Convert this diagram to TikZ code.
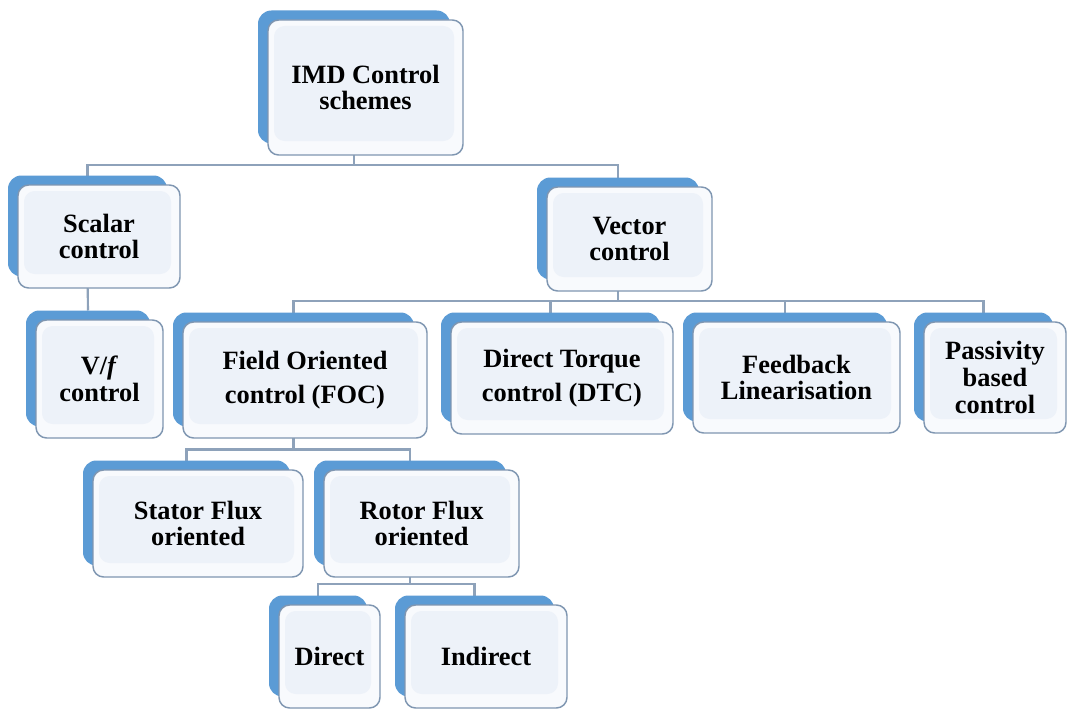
\documentclass[tikz,border=0pt]{standalone}
\usepackage{fontspec}
\setmainfont{Liberation Serif}
\pgfdeclarelayer{paper}
\pgfdeclarelayer{background}
\pgfsetlayers{paper,background,main}

\definecolor{backblue}{HTML}{5B9BD5}
\definecolor{frameline}{HTML}{7F96B1}
\definecolor{outerfill}{HTML}{F8FAFD}
\definecolor{innerfill}{HTML}{EDF2F9}
\definecolor{linkline}{HTML}{8EA2BA}

\tikzset{
  backbox/.style={fill=backblue, rounded corners=10pt, inner sep=0pt, outer sep=0pt},
  frontbox/.style={draw=frameline, line width=1.1pt, fill=outerfill, rounded corners=8pt,
    inner sep=0pt, outer sep=0pt, align=center,
    font=\bfseries\fontsize{19.8}{20}\selectfont,
    path picture={\fill[innerfill]
      ([shift={(6,6)}]path picture bounding box.north west) rectangle
      ([shift={(-9,-14)}]path picture bounding box.south east);}},
  conn/.style={draw=linkline, line width=1.6pt}
}

% one box: blue card behind a framed card holding the label
% #1 name, #2 centre (x,y), #3 width, #4 height, #5 label
\newcommand\ctlbox[5]{%
  \node[backbox, minimum width=(#3-3)*0.75pt, minimum height=(#4-2)*0.75pt]
    (#1-bg) at ([shift={(-11.5,-10.5)}]#2) {};
  \node[frontbox, minimum width=#3*0.75pt, minimum height=#4*0.75pt]
    (#1) at (#2) {#5};
}

\begin{document}
\begin{tikzpicture}[x=0.75pt, y=-0.75pt]
\useasboundingbox (0,0) rectangle (1067,710);
\begin{pgfonlayer}{paper}
  \fill[white] (0,0) rectangle (1067,710);
\end{pgfonlayer}

% levels of the horizontal bus lines
\coordinate (busA) at (0,165);
\coordinate (busB) at (0,301);
\coordinate (busC) at (0,449.5);
\coordinate (busD) at (0,584);

\ctlbox{imd}{365.5,87.5}{195}{135}{IMD Control\\[-1pt]schemes}
\ctlbox{scalar}{99,236.5}{162}{103}{Scalar\\control}
\ctlbox{vector}{629.5,239}{165}{104}{Vector\\control}
\ctlbox{vf}{99.5,379}{127}{118}{V/\textit{f}\\control}
\ctlbox{foc}{305,380}{244}{116}{Field Oriented\\[6pt]control (FOC)}
\ctlbox{dtc}{562,378}{222}{112}{Direct Torque\\[6pt]control (DTC)}
\ctlbox{fbl}{796.5,377.5}{207}{111}{Feedback\\Linearisation}
\ctlbox{pbc}{995,377.5}{142}{111}{Passivity\\based\\control}
\ctlbox{sfo}{198,523.5}{210}{107}{Stator Flux\\oriented}
\ctlbox{rfo}{421.5,523.5}{195}{107}{Rotor Flux\\oriented}
\ctlbox{direct}{329.5,656.5}{101}{103}{Direct}
\ctlbox{indirect}{486,656.5}{162}{103}{Indirect}

\begin{pgfonlayer}{background}
  \draw[conn] (imd-bg.south) -- (imd-bg.south |- busA) -| (scalar-bg.north);
  \draw[conn] (imd-bg.south |- busA) -| (vector-bg.north);
  \draw[conn] (scalar-bg.south) -- (vf-bg.north);
  \draw[conn] (vector-bg.south) -- (vector-bg.south |- busB) -| (foc-bg.north);
  \draw[conn] (vector-bg.south |- busB) -| (dtc-bg.north);
  \draw[conn] (vector-bg.south |- busB) -| (fbl-bg.north);
  \draw[conn] (vector-bg.south |- busB) -| (pbc-bg.north);
  \draw[conn] (foc-bg.south) -- (foc-bg.south |- busC) -| (sfo-bg.north);
  \draw[conn] (foc-bg.south |- busC) -| (rfo-bg.north);
  \draw[conn] (rfo-bg.south) -- (rfo-bg.south |- busD) -| (direct-bg.north);
  \draw[conn] (rfo-bg.south |- busD) -| (indirect-bg.north);
\end{pgfonlayer}
\end{tikzpicture}
\end{document}
